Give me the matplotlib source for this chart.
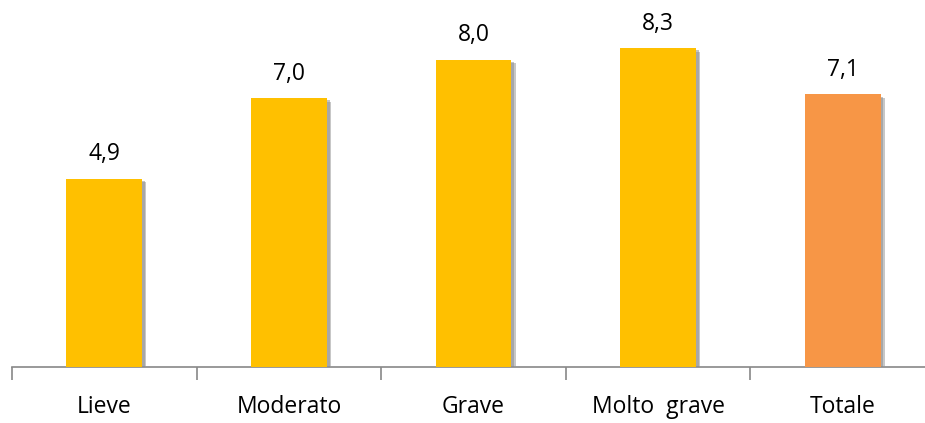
import matplotlib.pyplot as plt
import matplotlib.patheffects as pe

categorie = ['Lieve', 'Moderato', 'Grave', 'Molto  grave', 'Totale']
valori = [4.9, 7.0, 8.0, 8.3, 7.1]
etichette = ['4,9', '7,0', '8,0', '8,3', '7,1']
colori = ['#FFC000', '#FFC000', '#FFC000', '#FFC000', '#F79646']

plt.rcParams['font.family'] = ['Open Sans', 'DejaVu Sans']

fig = plt.figure(figsize=(9.25, 4.23), dpi=100)
ax = fig.add_axes([12/925, 56/423, 923/925, 367/423])

x = list(range(len(categorie)))
bars = ax.bar(x, valori, width=0.41, color=colori, zorder=3)
for b in bars:
    b.set_path_effects([pe.SimplePatchShadow(offset=(3, -2.5), shadow_rgbFace='#999999', alpha=0.55),
                        pe.SimplePatchShadow(offset=(2, -1.5), shadow_rgbFace='#888888', alpha=0.5),
                        pe.Normal()])

for xi, v, t in zip(x, valori, etichette):
    ax.text(xi, v + 0.33, t, ha='center', va='bottom', fontsize=16.5, color='#000000')

ax.set_xlim(-0.5, len(categorie) - 0.5)
ax.set_ylim(0, 9.56)
for s in ['top', 'right', 'left']:
    ax.spines[s].set_visible(False)
ax.spines['bottom'].set_color('#888888')
ax.spines['bottom'].set_linewidth(1.2)
ax.set_yticks([])

# tick marks between the categories, labels in the middle
ax.set_xticks([i - 0.5 for i in range(len(categorie) + 1)])
ax.set_xticklabels([])
ax.set_xticks(x, minor=True)
ax.set_xticklabels(categorie, minor=True, fontsize=16.5)
ax.tick_params(axis='x', which='major', length=9, width=1.2, color='#888888')
ax.tick_params(axis='x', which='minor', length=0, pad=20)

fig.savefig('out.png', dpi=100)
